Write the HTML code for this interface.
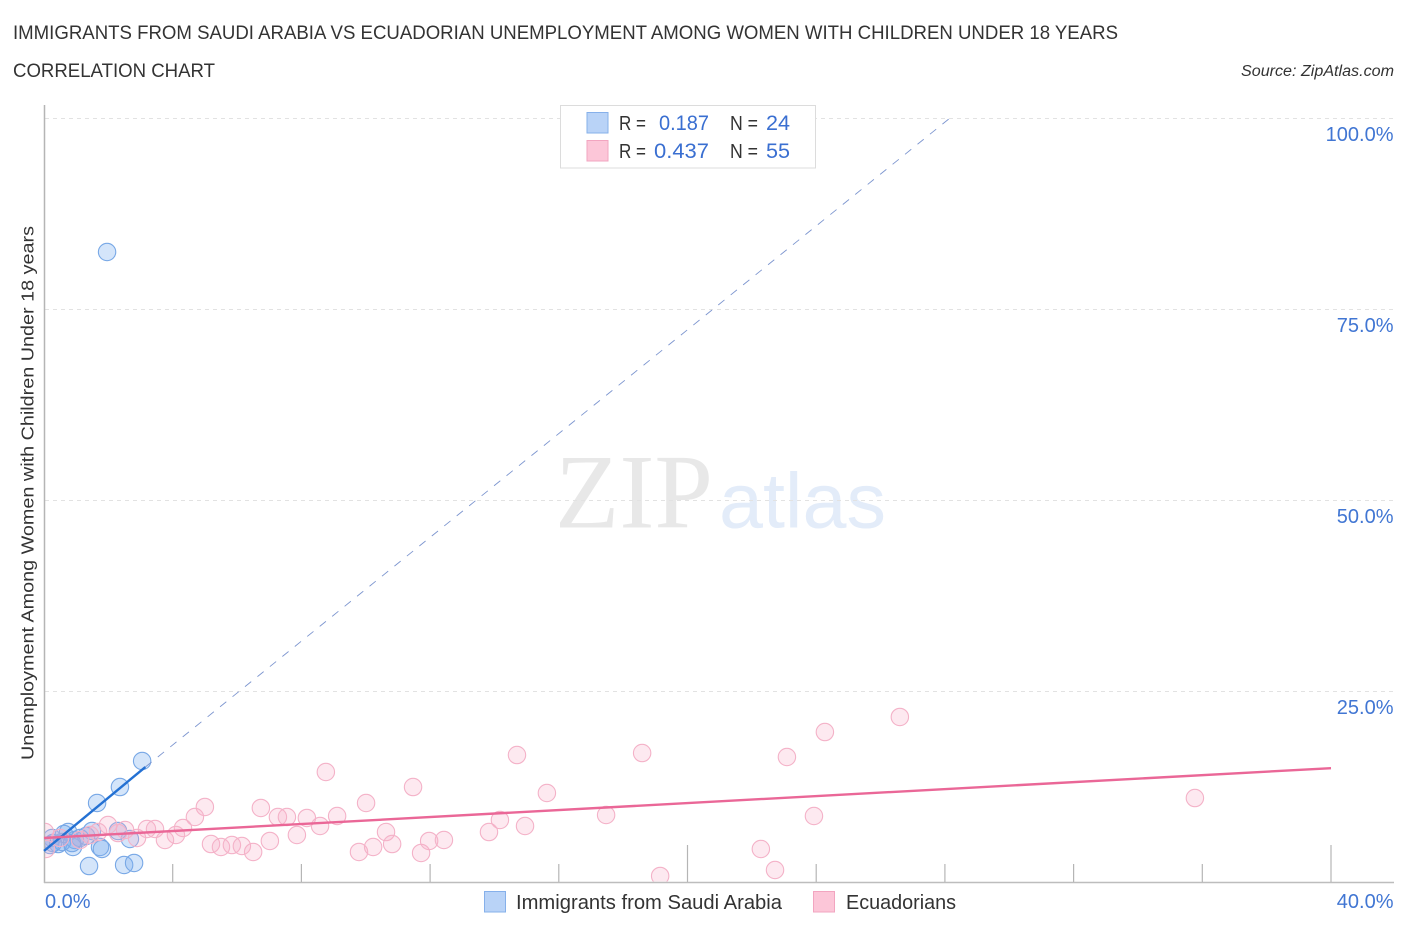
<!DOCTYPE html>
<html lang="en">
<head>
<meta charset="utf-8">
<title>Immigrants from Saudi Arabia vs Ecuadorian Correlation Chart</title>
<style>
html,body{margin:0;padding:0;background:#fff;}
svg{display:block;font-family:"Liberation Sans",sans-serif;}
</style>
</head>
<body>
<svg id="chart" width="1406" height="930" viewBox="0 0 1406 930" xmlns="http://www.w3.org/2000/svg">
  <defs><clipPath id="plot-clip"><rect x="45" y="100" width="1349" height="781.5"></rect></clipPath></defs>
  <text x="13" y="39" font-size="19" fill="#333" textLength="1105" lengthAdjust="spacingAndGlyphs">IMMIGRANTS FROM SAUDI ARABIA VS ECUADORIAN UNEMPLOYMENT AMONG WOMEN WITH CHILDREN UNDER 18 YEARS</text>
  <text x="13" y="77" font-size="19" fill="#333" textLength="202" lengthAdjust="spacingAndGlyphs">CORRELATION CHART</text>
  <text x="1241" y="76" font-size="15.5" font-style="italic" fill="#333" textLength="153" lengthAdjust="spacingAndGlyphs">Source: ZipAtlas.com</text>

  <g>
    <text x="555" y="527.500" font-family="'Liberation Serif',serif" font-size="106" fill="#e8e8e8" textLength="158" lengthAdjust="spacingAndGlyphs">ZIP</text>
    <text x="719" y="527.500" font-family="'Liberation Sans',sans-serif" font-size="78" fill="#e3ecf9" textLength="167" lengthAdjust="spacingAndGlyphs">atlas</text>
  </g>

  <g id="grid"></g>
  <g id="axes"></g>
  <g id="marks" clip-path="url(#plot-clip)"></g>
  <g id="trends"></g>
  <g id="labels"></g>

  <text transform="translate(33.500,493) rotate(-90)" text-anchor="middle" font-size="17.5" fill="#333" textLength="534" lengthAdjust="spacingAndGlyphs">Unemployment Among Women with Children Under 18 years</text>

  <g>
    <rect x="560.5" y="105.5" width="255" height="62.5" fill="#fff" stroke="#dcdcdc"></rect>
    <rect x="587" y="112.5" width="21" height="20.5" fill="#b9d3f7" stroke="#86b0ea"></rect>
    <rect x="587" y="140.5" width="21" height="20.5" fill="#fcc6d8" stroke="#f2a5c0"></rect>
    <g font-size="20" fill="#333">
      <text x="619" y="130" textLength="27" lengthAdjust="spacingAndGlyphs">R =</text>
      <text x="730" y="130" textLength="28" lengthAdjust="spacingAndGlyphs">N =</text>
      <text x="619" y="158" textLength="27" lengthAdjust="spacingAndGlyphs">R =</text>
      <text x="730" y="158" textLength="28" lengthAdjust="spacingAndGlyphs">N =</text>
    </g>
    <g font-size="21.5" fill="#3a6fd1">
      <text x="659" y="130" textLength="50" lengthAdjust="spacingAndGlyphs">0.187</text>
      <text x="766" y="130" textLength="24" lengthAdjust="spacingAndGlyphs">24</text>
      <text x="654" y="158" textLength="55" lengthAdjust="spacingAndGlyphs">0.437</text>
      <text x="766" y="158" textLength="24" lengthAdjust="spacingAndGlyphs">55</text>
    </g>
  </g>

  <g>
    <rect x="484.500" y="891.500" width="21" height="20.5" fill="#b9d3f7" stroke="#86b0ea"></rect>
    <text x="516" y="909" font-size="20" fill="#333" textLength="266" lengthAdjust="spacingAndGlyphs">Immigrants from Saudi Arabia</text>
    <rect x="813.500" y="891.500" width="21" height="20.5" fill="#fcc6d8" stroke="#f2a5c0"></rect>
    <text x="846" y="909" font-size="20" fill="#333" textLength="110" lengthAdjust="spacingAndGlyphs">Ecuadorians</text>
  </g>
</svg>
<script>
const saudiX = [1.96,3.05,2.36,1.65,1.40,2.49,2.80,1.74,1.80,2.67,2.30,1.49,0.90,0.75,0.25,0.19,0.44,0.56,0.96,1.12,1.31,0.62,0.87,0.28];
const saudiY = [82.46,15.84,12.43,10.34,2.09,2.23,2.49,4.58,4.32,5.63,6.68,6.68,4.58,6.54,5.76,4.84,4.97,5.24,5.50,5.76,6.02,6.28,5.10,5.10];
const ecuadorianX = [26.60,24.27,23.09,18.59,14.70,8.76,11.47,15.63,35.77,5.00,10.01,6.74,4.69,7.27,7.55,8.17,9.11,23.93,17.47,14.17,8.58,14.95,10.63,13.83,4.32,4.10,3.76,5.19,5.50,5.84,6.15,6.50,7.02,7.86,9.79,10.23,10.82,11.72,11.97,12.43,22.28,22.72,19.15,1.99,2.52,2.30,2.89,3.20,3.45,1.68,1.43,1.12,0.50,0.03,0.06];
const ecuadorianY = [21.60,19.63,16.36,16.88,16.62,14.40,12.43,11.65,10.99,9.82,10.34,9.69,8.51,8.51,8.51,8.38,8.64,8.64,8.77,8.12,7.33,7.33,6.54,6.54,7.07,6.15,5.50,4.97,4.58,4.84,4.71,3.93,5.37,6.15,3.93,4.58,4.97,3.80,5.37,5.50,4.32,1.57,0.79,7.46,6.81,6.41,5.76,6.94,6.94,6.54,6.15,5.50,5.76,6.54,4.32];
const saudiTrendX = [0, 3.15];
const saudiTrendY = [4.06, 15.05];
const saudiProjectionX = [3.15, 28.16];
const saudiProjectionY = [15.05, 100];
const ecuadorianTrendX = [0, 40];
const ecuadorianTrendY = [5.76, 14.9];
const yTicks = [100, 75, 50, 25];
const yTickLabels = ['100.0%', '75.0%', '50.0%', '25.0%'];
const xTicks = [0, 4, 8, 12, 16, 20, 24, 28, 32, 36, 40];
const xMajorTicks = [20, 40];
const xEndValues = [0, 40];
const xEndLabels = ['0.0%', '40.0%'];

const NS = 'http://www.w3.org/2000/svg';
const scaleX = v => 44 + v * 32.175;
const scaleY = v => 882 - v * 7.64;
function make(tag, parent, attrs) {
  const el = document.createElementNS(NS, tag);
  for (const k in attrs) el.setAttribute(k, attrs[k]);
  parent.appendChild(el);
  return el;
}
const grid = document.getElementById('grid');
const axes = document.getElementById('axes');
const marks = document.getElementById('marks');
const trends = document.getElementById('trends');
const labels = document.getElementById('labels');

yTicks.forEach((v, i) => {
  const gy = Math.floor(scaleY(v)) + 0.5;
  const line = make('line', grid, {x1: 45, x2: 1394, y1: gy, y2: gy, stroke: '#e2e2e2', 'stroke-width': 1, 'stroke-dasharray': '4 4'});
  
  
  const t = make('text', labels, {x: 1393.5, y: scaleY(v) + 23, 'text-anchor': 'end', 'font-size': 20, fill: '#4176d3'});
  
  
  t.textContent = yTickLabels[i];
});

const yAxis = make('line', axes, {x1: 44.500, x2: 44.500, y1: 105, y2: 883, stroke: '#b5b5b5', 'stroke-width': 1.500});


const xAxis = make('line', axes, {x1: 44, x2: 1394, y1: 882.500, y2: 882.500, stroke: '#bdbdbd', 'stroke-width': 1.500});


xTicks.slice(1).forEach(v => {
  const major = xMajorTicks.includes(v);
  const tick = make('line', axes, {x1: scaleX(v), x2: scaleX(v), y1: major ? 845 : 864, y2: 882, stroke: '#b5b5b5', 'stroke-width': 1.200});
  
  
});
xEndValues.forEach((v, i) => {
  const t = make('text', labels, {x: v === 0 ? 45 : 1393.5, y: 908, 'text-anchor': v === 0 ? 'start' : 'end', 'font-size': 20, fill: '#4176d3'});
  
  
  t.textContent = xEndLabels[i];
});

saudiX.forEach((v, i) => {
  const c = make('circle', marks, {cx: scaleX(v), cy: scaleY(saudiY[i]), r: 8.700, fill: 'rgba(125,175,240,0.33)', stroke: '#78a8e6', 'stroke-width': 1.100});
  
  
});
ecuadorianX.forEach((v, i) => {
  const c = make('circle', marks, {cx: scaleX(v), cy: scaleY(ecuadorianY[i]), r: 8.700, fill: 'rgba(248,175,200,0.28)', stroke: '#f4b2c8', 'stroke-width': 1.100});
  
  
});

const projection = make('line', trends, {x1: scaleX(saudiProjectionX[0]), y1: scaleY(saudiProjectionY[0]), x2: scaleX(saudiProjectionX[1]), y2: scaleY(saudiProjectionY[1]), stroke: '#7c95cf', 'stroke-width': 0.900, 'stroke-dasharray': '8 8'});


const saudiLine = make('line', trends, {x1: scaleX(saudiTrendX[0]), y1: scaleY(saudiTrendY[0]), x2: scaleX(saudiTrendX[1]), y2: scaleY(saudiTrendY[1]), stroke: '#2471d3', 'stroke-width': 2.400});


const ecuadorianLine = make('line', trends, {x1: scaleX(ecuadorianTrendX[0]), y1: scaleY(ecuadorianTrendY[0]), x2: scaleX(ecuadorianTrendX[1]), y2: scaleY(ecuadorianTrendY[1]), stroke: '#ea6797', 'stroke-width': 2.400});


</script>
</body>
</html>
